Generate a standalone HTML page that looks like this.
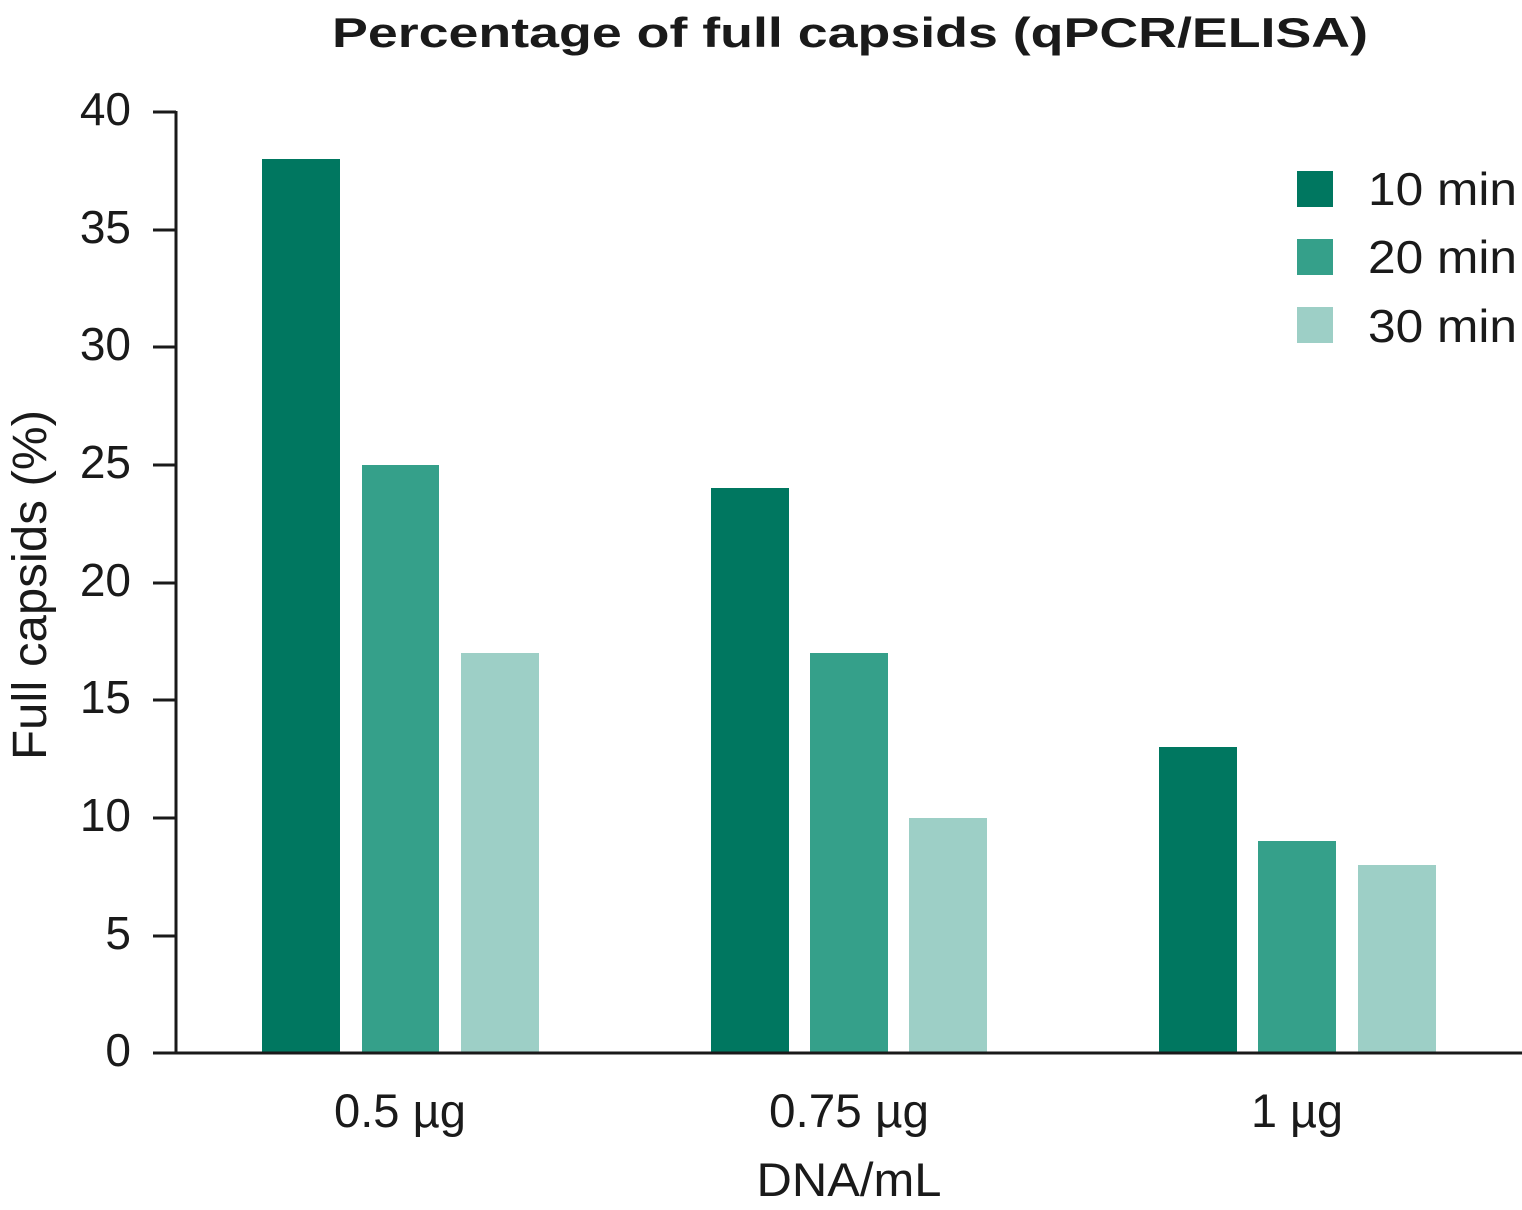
<!DOCTYPE html>
<html><head><style>body{margin:0;background:#fff}svg{display:block}</style></head><body>
<svg width="1522" height="1210" xmlns="http://www.w3.org/2000/svg" font-family="Liberation Sans, sans-serif" fill="#1a1a1a">
<text x="850" y="47" font-size="42" font-weight="bold" text-anchor="middle" textLength="1036" lengthAdjust="spacingAndGlyphs">Percentage of full capsids (qPCR/ELISA)</text>
<g fill="#007760"><rect x="262" y="159" width="78" height="894"/><rect x="711" y="488" width="78" height="565"/><rect x="1159" y="747" width="78" height="306"/></g>
<g fill="#35a08a"><rect x="362" y="465" width="77" height="588"/><rect x="810" y="653" width="78" height="400"/><rect x="1258" y="841" width="78" height="212"/></g>
<g fill="#9dcfc6"><rect x="461" y="653" width="78" height="400"/><rect x="909" y="818" width="78" height="235"/><rect x="1358" y="865" width="78" height="188"/></g>
<g stroke="#1a1a1a" stroke-width="3" fill="none">
<path d="M176 111V1053H1522"/>
<path d="M153 112H176M153 230H176M153 347H176M153 465H176M153 583H176M153 700H176M153 818H176M153 936H176M153 1053H176"/>
</g>
<g font-size="46" text-anchor="end">
<text x="131" y="125">40</text><text x="131" y="243">35</text><text x="131" y="360">30</text><text x="131" y="478">25</text><text x="131" y="596">20</text><text x="131" y="713">15</text><text x="131" y="831">10</text><text x="131" y="949">5</text><text x="131" y="1066">0</text>
</g>
<text transform="translate(46,585) rotate(-90)" font-size="48" text-anchor="middle" textLength="350" lengthAdjust="spacingAndGlyphs">Full capsids (%)</text>
<g font-size="47" text-anchor="middle">
<text x="400" y="1127" textLength="132" lengthAdjust="spacingAndGlyphs">0.5 µg</text><text x="849" y="1127" textLength="160" lengthAdjust="spacingAndGlyphs">0.75 µg</text><text x="1297" y="1127" textLength="92" lengthAdjust="spacingAndGlyphs">1 µg</text>
<text x="849" y="1196" textLength="185" lengthAdjust="spacingAndGlyphs">DNA/mL</text>
</g>
<rect x="1297" y="171" width="36" height="36" fill="#007760"/>
<rect x="1297" y="239" width="36" height="36" fill="#35a08a"/>
<rect x="1297" y="307" width="36" height="36" fill="#9dcfc6"/>
<g font-size="46">
<text x="1368" y="205" textLength="149" lengthAdjust="spacingAndGlyphs">10 min</text>
<text x="1368" y="273" textLength="149" lengthAdjust="spacingAndGlyphs">20 min</text>
<text x="1368" y="342" textLength="149" lengthAdjust="spacingAndGlyphs">30 min</text>
</g>
</svg>
</body></html>
